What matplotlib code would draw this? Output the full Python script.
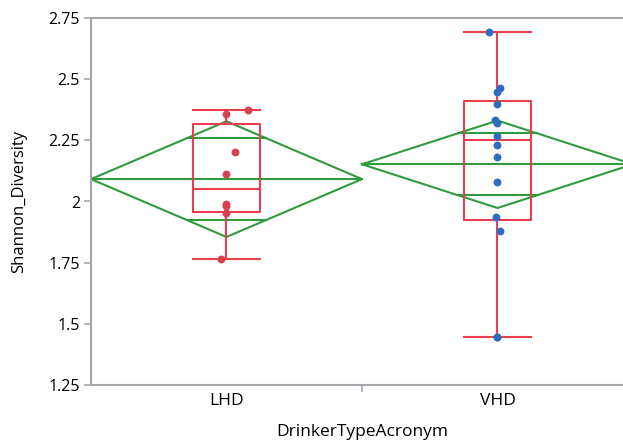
import matplotlib.pyplot as plt
import numpy as np

plt.rcParams['font.family'] = ['Open Sans', 'DejaVu Sans']

groups = ['LHD', 'VHD']
lhd = [2.375, 2.356, 2.201, 2.114, 1.990, 1.980, 1.952, 1.764]
vhd = [2.694, 2.462, 2.449, 2.400, 2.333, 2.319, 2.269, 2.231, 2.182,
       2.081, 1.937, 1.881, 1.447, 1.445]
# small horizontal jitter so stacked points stay visible
lhd_jitter = [0.08, 0.0, 0.03, 0.0, 0.0, 0.0, 0.0, -0.02]
vhd_jitter = [-0.03, 0.01, 0.0, 0.0, -0.01, 0.0, 0.0, 0.0, 0.0,
              0.0, -0.005, 0.01, 0.0, 0.0]
yticks = [1.25, 1.5, 1.75, 2, 2.25, 2.5, 2.75]
ytick_labels = ['1.25', '1.5', '1.75', '2', '2.25', '2.5', '2.75']
t_crit = 2.086  # t(0.975, df=20)

box_red = '#E8404E'
green = '#2F9A3E'
point_colors = ['#D8404F', '#2D6CBF']
axis_grey = '#A3A7AB'


def quartiles(v):
    # quantile at position (n+1)p
    s = np.sort(v)
    n = len(s)
    out = []
    for p in (0.25, 0.5, 0.75):
        pos = (n + 1) * p - 1
        lo = int(np.floor(pos))
        frac = pos - lo
        hi = min(lo + 1, n - 1)
        out.append(s[lo] + frac * (s[hi] - s[lo]))
    return out


data = [np.array(lhd), np.array(vhd)]
jitters = [lhd_jitter, vhd_jitter]

sse = sum(((d - d.mean()) ** 2).sum() for d in data)
dfe = sum(len(d) for d in data) - len(data)
rmse = np.sqrt(sse / dfe)

fig = plt.figure(figsize=(6.23, 4.45), dpi=100)
ax = fig.add_axes([91 / 623, 60 / 445, 542 / 623, 367 / 445])

for i, d in enumerate(data):
    c = i + 0.5
    m = d.mean()
    ci = t_crit * rmse / np.sqrt(len(d))
    ov = ci / np.sqrt(2)

    # means diamond spanning the whole group slot
    ax.plot([c - 0.5, c, c + 0.5, c, c - 0.5], [m, m + ci, m, m - ci, m],
            color=green, lw=1.5, zorder=2)
    ax.plot([c - 0.5, c + 0.5], [m, m], color=green, lw=1.5, zorder=2)
    hw = 0.5 * (1 - ov / ci)
    for y in (m + ov, m - ov):
        ax.plot([c - hw, c + hw], [y, y], color=green, lw=1.5, zorder=2)

    # outlier box
    q1, med, q3 = quartiles(d)
    iqr = q3 - q1
    lo_w = d[d >= q1 - 1.5 * iqr].min()
    hi_w = d[d <= q3 + 1.5 * iqr].max()
    bw = 0.125
    ax.plot([c - bw, c + bw, c + bw, c - bw, c - bw], [q1, q1, q3, q3, q1],
            color=box_red, lw=1.5, zorder=3)
    ax.plot([c - bw, c + bw], [med, med], color=box_red, lw=1.5, zorder=3)
    ax.plot([c, c], [q3, hi_w], color=box_red, lw=1.5, zorder=3)
    ax.plot([c, c], [q1, lo_w], color=box_red, lw=1.5, zorder=3)
    ax.plot([c - bw, c + bw], [hi_w, hi_w], color=box_red, lw=1.5, zorder=3)
    ax.plot([c - bw, c + bw], [lo_w, lo_w], color=box_red, lw=1.5, zorder=3)

    ax.scatter(c + np.array(jitters[i]), d, s=32, color=point_colors[i],
               zorder=4, linewidths=0)

ax.set_xlim(0, 2)
ax.set_ylim(1.25, 2.75)
ax.set_yticks(yticks)
ax.set_yticklabels(ytick_labels)
ax.set_xticks([1.0])
ax.set_xticklabels([''])
ax.set_xticks([0.5, 1.5], minor=True)
ax.set_xticklabels(groups, minor=True)
ax.tick_params(axis='x', which='minor', length=0, pad=6, labelsize=12.5)
ax.tick_params(axis='x', which='major', length=5, color=axis_grey, width=1.2)
ax.tick_params(axis='y', length=5, color=axis_grey, width=1.2, pad=3,
               labelsize=11.5)

for side in ('left', 'bottom', 'top'):
    ax.spines[side].set_color(axis_grey)
    ax.spines[side].set_linewidth(1.5)
ax.spines['right'].set_visible(False)

ax.set_ylabel('Shannon_Diversity', fontsize=12)
ax.yaxis.set_label_coords(-64 / 542, 0.5)
ax.set_xlabel('DrinkerTypeAcronym', fontsize=12.5)
ax.xaxis.set_label_coords(271 / 542, -0.105)

fig.savefig('out.png', dpi=100)
